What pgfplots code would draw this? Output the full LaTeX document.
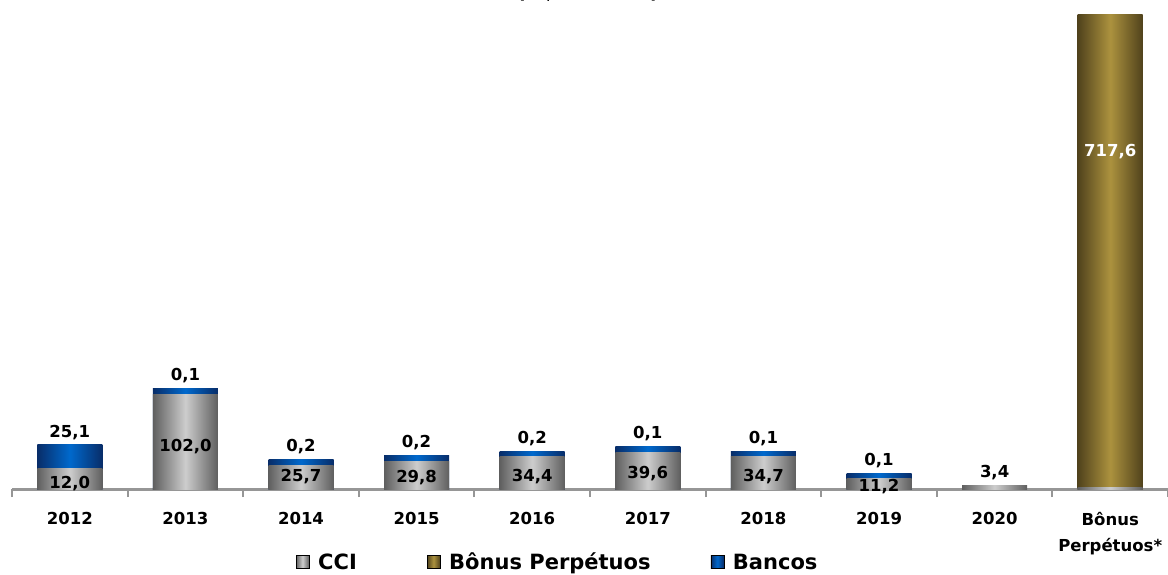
\documentclass[border=0pt]{standalone}
\usepackage{fontspec}
\setmainfont{DejaVu Sans}
\usepackage{pgfplots}
\pgfplotsset{compat=1.18}
\definecolor{ccid}{RGB}{95,95,95}
\definecolor{ccil}{RGB}{205,205,205}
\definecolor{band}{RGB}{8,45,105}
\definecolor{banl}{RGB}{0,105,205}
\definecolor{goldd}{RGB}{80,66,28}
\definecolor{goldl}{RGB}{172,146,62}
\definecolor{axg}{RGB}{150,150,150}
% one shaded bar per call: colour dark, colour light, x, y
\newcommand\sbar[4]{\addplot[ybar, bar width=65pt, bar shift=0pt, draw=none, left color=#1, right color=#1, middle color=#2, forget plot] coordinates {(#3,#4)};}
\begin{document}
\begin{tikzpicture}
\begin{axis}[
  scale only axis, width=1156pt, height=475pt,
  xmin=-0.5, xmax=9.5, ymin=0, ymax=510,
  axis y line=none, axis x line*=bottom,
  x axis line style={axg, line width=3pt},
  xtick={0,...,9},
  xticklabels={2012,2013,2014,2015,2016,2017,2018,2019,2020,{Bônus\\Perpétuos*}},
  xticklabel style={font=\fontsize{16.5}{26}\selectfont\bfseries, align=center, text=black, anchor=north, yshift=-19.5pt},
  major tick length=0pt,
  minor xtick={-0.5,0.5,...,9.5},
  minor tick length=8pt,
  tick align=outside,
  minor tick style={axg, line width=2pt},
  legend style={at={(0.472,-0.154)}, anchor=center, draw=none, fill=none, legend columns=-1,
    font=\fontsize{21}{25}\selectfont\bfseries,
    /tikz/every odd column/.append style={column sep=7pt},
    /tikz/column 2/.append style={column sep=68pt},
    /tikz/column 4/.append style={column sep=58pt}},
]
% Bonus Perpetuos
\sbar{goldd}{goldl}{9}{717.6}
% Bancos (top of each stack: CCI + Bancos as drawn)
\sbar{band}{banl}{0}{47.3}
\sbar{band}{banl}{1}{107.8}
\sbar{band}{banl}{2}{31.5}
\sbar{band}{banl}{3}{35.6}
\sbar{band}{banl}{4}{40.2}
\sbar{band}{banl}{5}{45.4}
\sbar{band}{banl}{6}{40.5}
\sbar{band}{banl}{7}{17.0}
% CCI
\sbar{ccid}{ccil}{0}{21.5}
\sbar{ccid}{ccil}{1}{102.0}
\sbar{ccid}{ccil}{2}{25.7}
\sbar{ccid}{ccil}{3}{29.8}
\sbar{ccid}{ccil}{4}{34.4}
\sbar{ccid}{ccil}{5}{39.6}
\sbar{ccid}{ccil}{6}{34.7}
\sbar{ccid}{ccil}{7}{11.2}
\sbar{ccid}{ccil}{8}{3.4}
\sbar{ccid}{ccil}{9}{1.5}
% labels above
\addplot[draw=none, forget plot, nodes near coords, point meta=explicit symbolic,
  nodes near coords align={south},
  every node near coord/.append style={font=\fontsize{16.5}{20}\selectfont\bfseries, text=black, yshift=2pt}]
  coordinates {(0,47.3)[{25,1}] (1,107.8)[{0,1}] (2,31.5)[{0,2}] (3,35.6)[{0,2}] (4,40.2)[{0,2}] (5,45.4)[{0,1}] (6,40.5)[{0,1}] (7,17.0)[{0,1}] (8,3.4)[{3,4}]};
% labels inside CCI
\addplot[draw=none, forget plot, nodes near coords, point meta=explicit symbolic,
  nodes near coords align={center},
  every node near coord/.append style={font=\fontsize{16.5}{20}\selectfont\bfseries, text=black}]
  coordinates {(0,6.0)[{12,0}] (1,46)[{102,0}] (2,12.9)[{25,7}] (3,11.8)[{29,8}] (4,12.9)[{34,4}] (5,16.1)[{39,6}] (6,12.9)[{34,7}] (7,2.1)[{11,2}]};
% label Bonus
\addplot[draw=none, forget plot, nodes near coords, point meta=explicit symbolic,
  nodes near coords align={center},
  every node near coord/.append style={font=\fontsize{16.5}{20}\selectfont\bfseries, text=white}]
  coordinates {(9,362)[{717,6}]};
\addlegendimage{legend image code/.code={\shade[left color=ccid, right color=ccid, middle color=ccil] (0pt,-6.5pt) rectangle (13pt,6.5pt);}}
\addlegendentry{CCI}
\addlegendimage{legend image code/.code={\shade[left color=goldd, right color=goldd, middle color=goldl] (0pt,-6.5pt) rectangle (13pt,6.5pt);}}
\addlegendentry{Bônus Perpétuos}
\addlegendimage{legend image code/.code={\shade[left color=band, right color=band, middle color=banl] (0pt,-6.5pt) rectangle (13pt,6.5pt);}}
\addlegendentry{Bancos}
\end{axis}
\node[font=\fontsize{20}{24}\selectfont\bfseries, anchor=base] at (576pt,490.2pt) {(R\$ milhões)};
\pgfresetboundingbox
\useasboundingbox (-12pt,-85pt) rectangle (1156pt,489pt);
\end{tikzpicture}
\end{document}
